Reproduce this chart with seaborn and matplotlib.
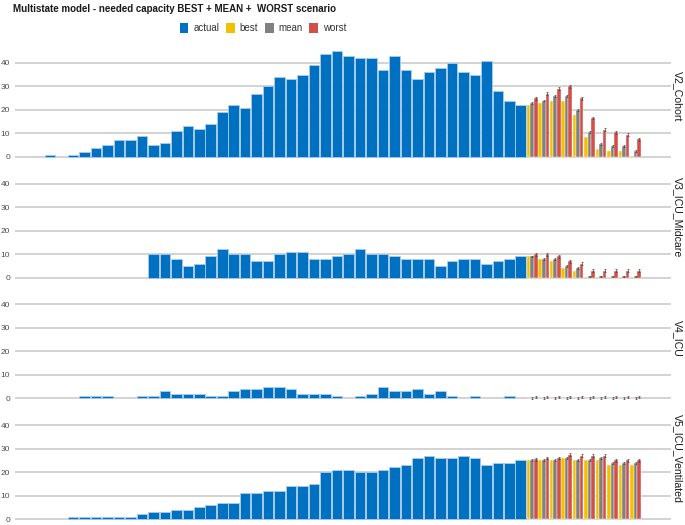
import numpy as np
import pandas as pd
import matplotlib
matplotlib.use("Agg")
import matplotlib.pyplot as plt
from matplotlib.patches import Patch
import seaborn as sns

# ---------------- data ----------------
panels = ["V2_Cohort", "V3_ICU_Midcare", "V4_ICU", "V5_ICU_Ventilated"]
n_days = 52
actual_days = list(range(42))
forecast_days = list(range(42, 52))
scenarios = ["best", "mean", "worst"]

v2_actual = [1, 0, 1, 2, 4, 5, 7, 7, 9, 5, 6, 11, 13, 12, 14, 19, 22, 21, 27, 30, 34, 33, 35, 39, 44, 45,
             43, 42, 42, 37, 43, 37, 33, 36, 38, 40, 36, 35, 41, 28, 24, 22]
v3_actual = [0, 0, 0, 0, 0, 0, 0, 0, 0, 10, 10, 8, 5, 6, 9, 12, 10, 10, 7, 7, 10, 11, 11, 8, 8, 9, 10,
             12, 10, 10, 9, 8, 8, 8, 5, 7, 8, 8, 6, 7, 8, 9]
v4_actual = [0, 0, 0, 1, 1, 1, 0, 0, 1, 1, 3, 2, 2, 2, 1, 1, 3, 4, 4, 5, 5, 4, 2, 2, 2, 1,
             0, 1, 2, 5, 3, 3, 4, 2, 3, 1, 0, 1, 0, 0, 1, 0]
v5_actual = [0, 0, 1, 1, 1, 1, 1, 1, 2, 3, 3, 4, 4, 5, 6, 7, 7, 11, 11, 12, 12, 14, 14, 15, 20, 21,
             21, 20, 20, 21, 22, 23, 26, 27, 26, 26, 27, 26, 23, 24, 24, 25]

v2_best = [22, 23, 24, 24, 18, 8.5, 3.5, 2.4, 2.4, 0.4]
v2_mean = [23, 24, 26, 26, 20, 10.6, 5.5, 4.5, 4.5, 2.5]
v2_worst = [25, 27, 29, 30, 25, 16.6, 11.6, 10.5, 9.5, 7.5]

v3_best = [9, 8, 7, 4, 3, 0.1, 0.1, 0.1, 0.1, 0.1]
v3_mean = [9, 8, 8, 5, 4, 0.5, 0.5, 0.5, 0.5, 0.5]
v3_worst = [10, 10, 9, 7, 6, 3, 3, 3, 3, 3]

v4_best = [0.1, 0.1, 0.1, 0.1, 0.1, 0.1, 0.1, 0.1, 0.1, 0.1]
v4_mean = [0.3, 0.3, 0.3, 0.3, 0.3, 0.3, 0.3, 0.3, 0.3, 0.3]
v4_worst = [0.6, 0.6, 0.6, 0.6, 0.6, 0.6, 0.6, 0.6, 0.6, 0.6]

v5_best = [25, 25, 25, 26, 25, 25, 25, 23, 23, 23]
v5_mean = [25, 25, 25, 26, 25, 25, 26, 24, 24, 24]
v5_worst = [25.5, 26, 26, 27.4, 27, 27, 27, 25, 25, 25]

err_best = 0.0
err_mean = 0.4
err_worst = 0.6

y_ticks = [0, 10, 20, 30, 40]

actual_series = [v2_actual, v3_actual, v4_actual, v5_actual]
forecast_series = [(v2_best, v2_mean, v2_worst), (v3_best, v3_mean, v3_worst),
                   (v4_best, v4_mean, v4_worst), (v5_best, v5_mean, v5_worst)]

colors = {"actual": "#0070C0", "best": "#F2C000", "mean": "#808080", "worst": "#D24F4A"}
edge_actual = "#a9cdee"

# ---------------- plot ----------------
sns.set_theme(style="white")
plt.rcParams["font.family"] = ["Liberation Sans", "DejaVu Sans"]

fig = plt.figure(figsize=(6.85, 5.25), dpi=100)
axes = fig.subplots(4, 1, sharex=False, gridspec_kw=dict(hspace=0.01))
fig.subplots_adjust(left=0.0219, right=0.979, top=0.9185, bottom=0.001)

order = list(range(n_days))

for ax, name, act, fc in zip(axes, panels, actual_series, forecast_series):
    df_act = pd.DataFrame({"day": actual_days, "value": act})
    df_act = df_act[df_act["value"] > 0]
    sns.barplot(data=df_act, x="day", y="value", order=order, color=colors["actual"],
                width=0.92, errorbar=None, saturation=1, edgecolor=edge_actual,
                linewidth=0.6, ax=ax)
    n_before = len(ax.patches)
    rows = []
    for scen, vals in zip(scenarios, fc):
        for d, v in zip(forecast_days, vals):
            rows.append({"day": d, "scenario": scen, "value": v})
    df_fc = pd.DataFrame(rows)
    sns.barplot(data=df_fc, x="day", y="value", hue="scenario", hue_order=scenarios,
                order=order, palette=[colors[s] for s in scenarios], width=0.92,
                errorbar=None, saturation=1, linewidth=0.3, edgecolor="white",
                legend=False, ax=ax)
    # small error bars on the forecast bars
    errs = {"best": err_best, "mean": err_mean, "worst": err_worst}
    fc_patches = ax.patches[n_before:]
    per = len(forecast_days)
    for i, scen in enumerate(scenarios):
        e = errs[scen]
        if e <= 0:
            continue
        ps = fc_patches[i * per:(i + 1) * per]
        xs = [p.get_x() + p.get_width() / 2 for p in ps]
        hs = [p.get_height() for p in ps]
        ax.errorbar(xs, hs, yerr=[[e] * len(hs), [e] * len(hs)], fmt="none",
                    ecolor="#4a4a4a", elinewidth=0.5, capsize=0.9, capthick=0.5, zorder=5)

    ax.set_xlim(-3.05, 54.05)
    ax.set_ylim(-2.3, 48.6)
    ax.set_yticks(y_ticks)
    ax.set_yticklabels([str(t) for t in y_ticks], fontsize=6, color="#4d4d4d")
    ax.tick_params(axis="y", length=0, pad=3.5)
    ax.set_xticks([])
    ax.set_xlabel("")
    ax.set_ylabel("")
    ax.yaxis.grid(True, color="#d0d0d0", linewidth=1.3)
    ax.xaxis.grid(False)
    ax.set_axisbelow(True)
    for s in ax.spines.values():
        s.set_visible(False)
    ax.text(1.003, 0.55, name, transform=ax.transAxes, rotation=-90, va="center",
            ha="left", fontsize=7.6, color="#1a1a1a")

fig.text(0.019, 0.992, "Multistate model - needed capacity BEST + MEAN +  WORST scenario",
         fontsize=7, fontweight="bold", color="#1a1a1a", va="top", ha="left")

handles = [Patch(facecolor=colors[k], edgecolor="none", label=k)
           for k in ["actual", "best", "mean", "worst"]]
fig.legend(handles=handles, loc="center", bbox_to_anchor=(0.384, 0.947), ncol=4,
           frameon=False, fontsize=7, handlelength=0.9, handleheight=1.2,
           handletextpad=0.5, columnspacing=0.7, labelcolor="#333333")

fig.savefig("out.png", dpi=100)
